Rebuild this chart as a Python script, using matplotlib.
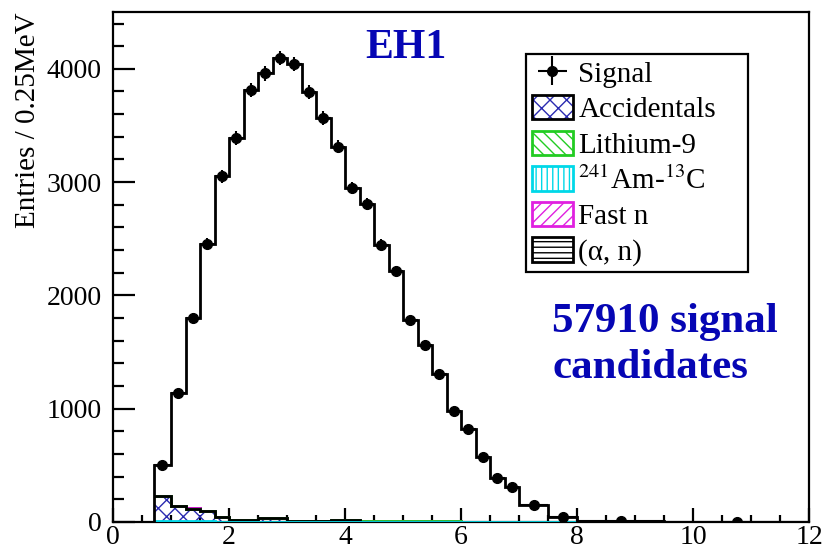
import numpy as np
import matplotlib
matplotlib.use('Agg')
import matplotlib.pyplot as plt
from matplotlib.patches import Patch

plt.rcParams['font.family'] = ['Liberation Serif', 'DejaVu Serif']
plt.rcParams['mathtext.fontset'] = 'stix'
plt.rcParams['hatch.linewidth'] = 1.0

# bin edges (MeV) - variable binning at high energy
edges = [0.7, 1.0, 1.25, 1.5, 1.75, 2.0, 2.25, 2.5, 2.75, 3.0, 3.25, 3.5, 3.75,
         4.0, 4.25, 4.5, 4.75, 5.0, 5.25, 5.5, 5.75, 6.0, 6.25, 6.5, 6.75, 7.0,
         7.5, 8.0, 9.5, 12.0]

# signal entries / 0.25 MeV
signal = [502, 1139, 1800, 2455, 3051, 3389, 3815, 3959, 4094, 4041, 3795, 3566,
          3313, 2949, 2808, 2447, 2214, 1783, 1565, 1304, 981, 817, 576, 385,
          311, 150, 47, 6, 2]

# backgrounds (stacked)
amc = [6, 6, 6, 6, 0, 0, 0, 0, 0, 0, 0, 0, 0, 0, 0, 0, 0, 0, 0, 0, 0, 0, 0, 0,
       0, 0, 0, 0, 0]
accidentals = [225, 135, 112, 92, 45, 18, 18, 30, 30, 6, 6, 6, 15, 15, 0, 0, 0,
               0, 0, 0, 0, 0, 0, 0, 0, 0, 0, 0, 0]
lithium9 = [0, 0, 0, 0, 0, 0, 0, 0, 0, 0, 0, 0, 0, 0, 5, 5, 5, 5, 5, 5, 5, 0, 0,
            0, 0, 0, 0, 0, 0]
fastn = [1, 1, 1, 1, 1, 1, 1, 1, 1, 1, 1, 1, 1, 1, 1, 1, 1, 1, 1, 1, 1, 1, 1, 1,
         1, 1, 1, 1, 1]
alphan = [0, 0, 0, 0, 0, 0, 0, 0, 0, 0, 0, 0, 0, 0, 0, 0, 0, 0, 0, 0, 0, 0, 0,
          0, 0, 0, 0, 0, 0]

edges_a = np.array(edges)
centers = 0.5 * (edges_a[1:] + edges_a[:-1])
half_w = 0.5 * np.diff(edges_a)
sig = np.array(signal, dtype=float)

fig = plt.figure(figsize=(8.25, 5.54), dpi=100)
ax = fig.add_axes([0.137, 0.058, 0.844, 0.920])

blue_txt = '#0606b4'

# stacked background fills (bottom -> top)
comps = [
    (amc, '#00d8e8', '|||', 'none'),
    (accidentals, '#2a2ab0', 'xx', 'black'),
    (lithium9, '#22cc22', '\\\\\\', '#22cc22'),
    (fastn, '#e020e0', '///', '#e020e0'),
    (alphan, 'black', '---', 'black'),
]
base = np.zeros(len(signal))
tops = []
for vals, col, hat, lcol in comps:
    v = np.array(vals, dtype=float)
    ax.stairs(base + v, edges_a, baseline=base, fill=True, facecolor='none',
              edgecolor=col, hatch=hat, linewidth=0, zorder=2)
    tops.append((base + v, lcol, col))
    base = base + v

# outlines: top-most first so lower ones lie on top
for top, lcol, col in reversed(tops):
    c = col if lcol == 'none' else lcol
    ax.stairs(top, edges_a, baseline=None, color=c, linewidth=2, zorder=3)

# signal histogram + points
ax.stairs(sig, edges_a, color='black', linewidth=2, zorder=4)
eb = ax.errorbar(centers, sig, xerr=half_w, yerr=np.sqrt(sig), fmt='o',
                 color='black', markersize=7, elinewidth=1.5, capsize=0,
                 zorder=5)

ax.set_xlim(0, 12)
ax.set_ylim(0, 4500)
ax.set_xticks([0, 2, 4, 6, 8, 10, 12])
ax.set_xticks(np.arange(0, 12.01, 0.5), minor=True)
ax.set_yticks([0, 1000, 2000, 3000, 4000])
ax.set_yticks(np.arange(0, 4500, 200), minor=True)

ax.tick_params(axis='both', which='both', direction='in', width=1.6,
               labelsize=20, top=False, right=False)
ax.tick_params(axis='y', which='major', length=16, pad=8)
ax.tick_params(axis='y', which='minor', length=8)
ax.tick_params(axis='x', which='major', length=10, pad=2.5)
ax.tick_params(axis='x', which='minor', length=5)
for sp in ax.spines.values():
    sp.set_linewidth(1.6)

ax.set_ylabel('Entries / 0.25MeV', fontsize=21, loc='top')
ax.yaxis.set_label_coords(-0.103, 1.0)

ax.text(0.42, 0.93, 'EH1', transform=ax.transAxes, ha='center', va='center',
        fontsize=30, fontweight='bold', color=blue_txt)
ax.text(0.631, 0.43, '57910 signal\ncandidates', transform=ax.transAxes,
        ha='left', va='top', fontsize=31, fontweight='bold', color=blue_txt,
        linespacing=1.3)

# legend handles
h_acc = (Patch(facecolor='white', edgecolor='#2a2ab0', hatch='xx', linewidth=0),
         Patch(facecolor='none', edgecolor='black', linewidth=2))
h_li = (Patch(facecolor='white', edgecolor='#22cc22', hatch='\\\\\\', linewidth=0),
        Patch(facecolor='none', edgecolor='#22cc22', linewidth=2))
h_amc = (Patch(facecolor='white', edgecolor='#00d8e8', hatch='|||', linewidth=0),
         Patch(facecolor='none', edgecolor='#00d8e8', linewidth=2))
h_fn = (Patch(facecolor='white', edgecolor='#e020e0', hatch='///', linewidth=0),
        Patch(facecolor='none', edgecolor='#e020e0', linewidth=2))
h_an = (Patch(facecolor='white', edgecolor='black', hatch='---', linewidth=0),
        Patch(facecolor='none', edgecolor='black', linewidth=2))

leg = ax.legend([eb, h_acc, h_li, h_amc, h_fn, h_an],
                ['Signal', 'Accidentals', 'Lithium-9', r'$^{241}$Am-$^{13}$C',
                 'Fast n', '(α, n)'],
                loc='upper left', bbox_to_anchor=(0.593, 0.496, 0.319, 0.422),
                mode='expand', borderaxespad=0, fontsize=21, frameon=True,
                fancybox=False, edgecolor='black', framealpha=1,
                handlelength=1.4, handleheight=0.9, handletextpad=0.2,
                labelspacing=0.25, borderpad=0.2)
leg.get_frame().set_linewidth(1.6)

fig.savefig('out.png', dpi=100)
